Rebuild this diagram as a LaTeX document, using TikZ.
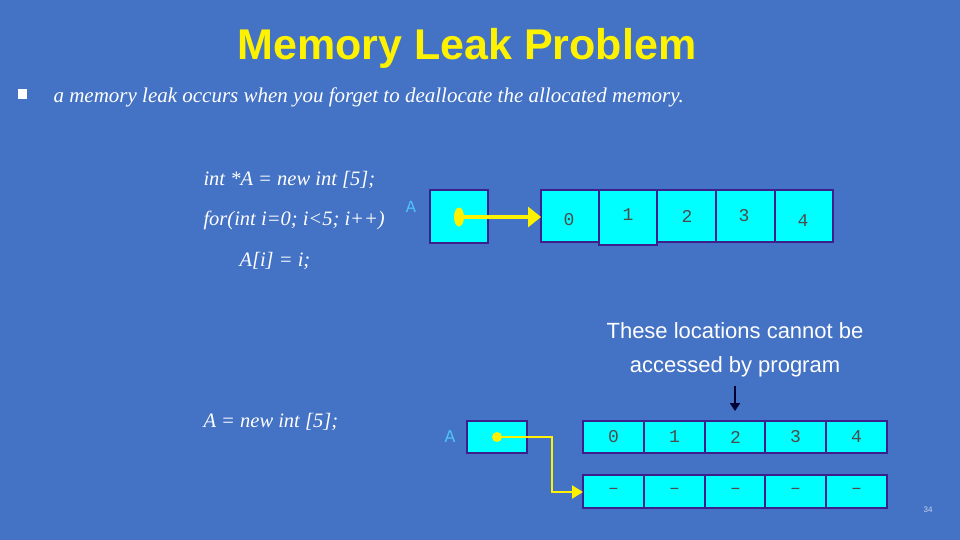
\documentclass[tikz,border=0pt]{standalone}
\usepackage{fontspec}
\setmainfont{Liberation Serif}
\newfontfamily\sansf{Liberation Sans}
\newfontfamily\monof{Liberation Mono}
\usetikzlibrary{arrows.meta,shapes.geometric}
\definecolor{bg}{HTML}{4472C4}
\definecolor{cell}{HTML}{00FFFF}
\definecolor{cellb}{HTML}{3C1E8C}
\definecolor{lab}{HTML}{4FC3F7}
\begin{document}
\begin{tikzpicture}[x=1pt,y=-1pt,
  cellbox/.style={draw=cellb,line width=1.2pt,fill=cell},
  code/.style={anchor=west,text=white,font=\fontsize{20.5}{24}\selectfont\itshape},
  num/.style={font=\monof\fontsize{18}{20}\selectfont,text=black!70},
  ptr/.style={draw=yellow,line width=2.5pt},
  dot/.style={circle,fill=yellow,inner sep=0pt,minimum size=10pt}]
\fill[bg] (0,0) rectangle (960,540);
\useasboundingbox (0,0) rectangle (960,540);
\node[text=yellow,font=\sansf\bfseries\fontsize{43}{48}\selectfont] (title) at (467,48) {Memory Leak Problem};
\fill[white] (18,89) rectangle (27,99);
\node[code,anchor=west,font=\fontsize{21}{24}\selectfont\itshape] (b1) at (50,97) {a memory leak occurs when you forget to deallocate the allocated memory.};
\node[code] (c1) at (200,180) {int *A = new int [5];};
\node[code] (c2) at (200,220) {for(int i=0; i<5; i++)};
\node[code] (c3) at (236,261) {A[i] = i;};
\node[code] (c4) at (200,422) {A = new int [5];};
% top
\node[text=lab,font=\monof\fontsize{17}{18}\selectfont] (a1) at (411,207) {A};
\draw[cellbox] (430,190) rectangle (488,243);
\draw[cellbox] (541,190) rectangle (599,242);
\draw[cellbox] (599,190) rectangle (657,245);
\draw[cellbox] (657,190) rectangle (716,242);
\draw[cellbox] (716,190) rectangle (775,242);
\draw[cellbox] (775,190) rectangle (833,242);
\node[num] (t0) at (569,220) {0};
\node[num] (t1) at (628,215) {1};
\node[num] (t2) at (687,216) {2};
\node[num] (t3) at (744,216) {3};
\node[num] (t4) at (803,221) {4};
\node[ellipse,fill=yellow,inner sep=0pt,minimum width=10pt,minimum height=19pt] (p1) at (459,217) {};
\coordinate (p1e) at (541,217);
\draw[ptr,line width=3.5pt,-{Triangle[length=13pt,width=20pt]}] (p1) -- (p1e);
% text
\node[text=white,font=\sansf\fontsize{22}{34}\selectfont,align=center] (note) at (735,350) {These locations cannot be\\accessed by program};
\coordinate (n1) at (735,386); \coordinate (n2) at (735,411);
\draw[line width=1.8pt,draw=black!80!blue,-{Triangle[length=8pt,width=10pt]}] (n1) -- (n2);
% bottom
\node[text=lab,font=\monof\fontsize{18}{20}\selectfont] (a2) at (450,437) {A};
\draw[cellbox] (467,421) rectangle (527,453);
\foreach \i/\x in {0/583,1/644,2/705,3/765,4/826}{
  \draw[cellbox] (\x,421) rectangle ++(61,32);
  \draw[cellbox] (\x,475) rectangle ++(61,33);
  \node[num] at (\x+30.5,437) {\i};
  \node[num] at (\x+30.5,491) {–};
}
\node[dot] (p2) at (497,437) {};
\coordinate (p2e) at (583,492);
\draw[ptr,-{Triangle[length=11pt,width=13pt]}] (p2) -| (552,492) -- (p2e);
\node[text=white!70!bg,font=\sansf\fontsize{8}{9}\selectfont] (pg) at (928,510) {34};
\end{tikzpicture}
\end{document}
